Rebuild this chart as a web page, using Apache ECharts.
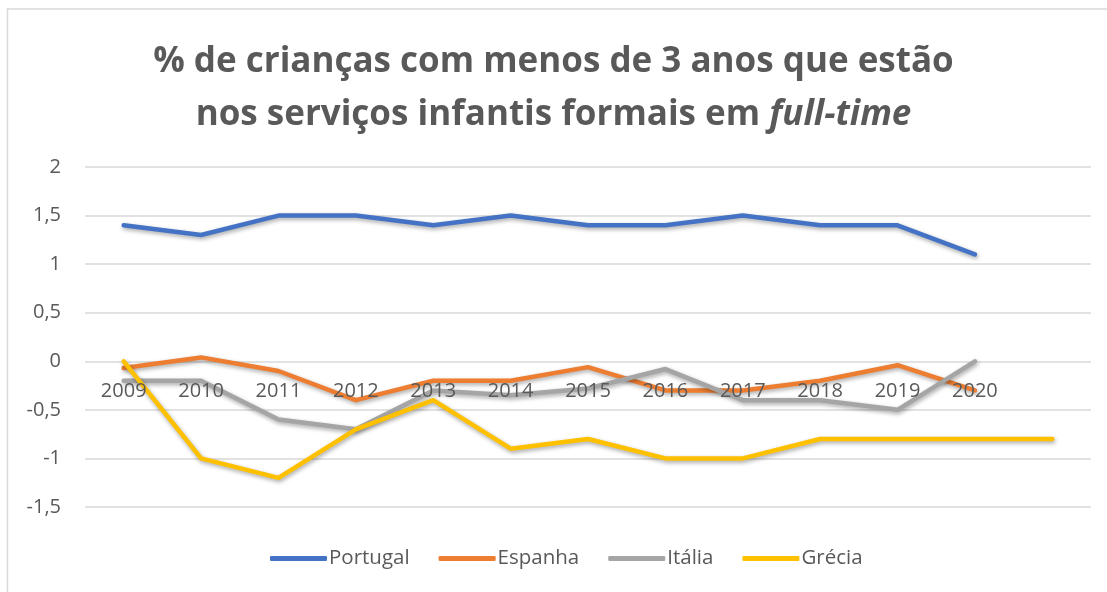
<!DOCTYPE html>
<html>
<head>
<meta charset="utf-8">
<script src="https://cdn.jsdelivr.net/npm/echarts@6/dist/echarts.min.js"></script>
<style>html,body{margin:0;padding:0;background:#fff}#c{width:1107px;height:592px}</style>
</head>
<body>
<div id="c"></div>
<script>
const categories = ['2009','2010','2011','2012','2013','2014','2015','2016','2017','2018','2019','2020',''];
const portugal = [1.4, 1.3, 1.5, 1.5, 1.4, 1.5, 1.4, 1.4, 1.5, 1.4, 1.4, 1.1, null];
const espanha  = [-0.07, 0.04, -0.1, -0.4, -0.2, -0.2, -0.06, -0.3, -0.3, -0.2, -0.04, -0.3, null];
const italia   = [-0.2, -0.2, -0.6, -0.7, -0.3, -0.35, -0.28, -0.08, -0.4, -0.4, -0.5, 0, null];
const grecia   = [0, -1, -1.2, -0.7, -0.4, -0.9, -0.8, -1, -1, -0.8, -0.8, -0.8, -0.8];
const seriesNames = ['Portugal','Espanha','Itália','Grécia'];
const colors = ['#4472C4','#ED7D31','#A5A5A5','#FFC000'];
const yTicks = {min: -1.5, max: 2, interval: 0.5};

const FONT = '"Open Sans", Lato, sans-serif';
const GRID = {left: 85, right: 16, top: 167, bottom: 85};
const plotH = 592 - GRID.top - GRID.bottom;
// move the category axis up to the value 0 (as Excel does)
const zeroOffset = -((0 - yTicks.min) / (yTicks.max - yTicks.min)) * plotH;

const chart = echarts.init(document.getElementById('c'));
function mk(name, data, color, z) {
  return {
    name, type: 'line', data, z,
    symbol: 'none', smooth: false, connectNulls: false,
    lineStyle: {width: 4.5, color, cap: 'round', join: 'round',
      shadowColor: 'rgba(0,0,0,0.35)', shadowBlur: 4, shadowOffsetX: 1, shadowOffsetY: 2},
    itemStyle: {color}
  };
}
chart.setOption({
  animation: false,
  graphic: [{type: 'rect', shape: {x: 7.5, y: 9, width: 1200, height: 700},
    style: {fill: 'none', stroke: '#d9d9d9', lineWidth: 1.5}, z: -1}],
  title: {
    text: '% de crianças com menos de 3 anos que estão\nnos serviços infantis formais em {i|full-time}',
    left: 'center', top: 31,
    textStyle: {fontFamily: FONT, fontWeight: 'bold', fontSize: 35, color: '#595959', lineHeight: 53,
      rich: {i: {fontFamily: FONT, fontWeight: 'bold', fontStyle: 'italic', fontSize: 35, color: '#595959', lineHeight: 53}}}
  },
  legend: {
    data: seriesNames, bottom: 18, left: 265,
    icon: 'roundRect', itemWidth: 57, itemHeight: 5, itemGap: 29,
    textStyle: {fontFamily: FONT, fontSize: 20.5, color: '#595959', padding: [0,0,0,-3]}
  },
  grid: Object.assign({containLabel: false}, GRID),
  xAxis: {
    type: 'category', data: categories, boundaryGap: true,
    offset: zeroOffset,
    axisLine: {show: false, onZero: false},
    axisTick: {show: false},
    axisLabel: {fontFamily: FONT, fontSize: 20, color: '#595959', margin: 20, interval: 0},
    z: 10
  },
  yAxis: {
    type: 'value', min: yTicks.min, max: yTicks.max, interval: yTicks.interval,
    axisLine: {show: false}, axisTick: {show: false},
    splitLine: {lineStyle: {color: '#d9d9d9', width: 1.5}},
    axisLabel: {fontFamily: FONT, fontSize: 20, color: '#595959', margin: 24,
      formatter: v => String(v).replace('.', ',')}
  },
  series: [
    mk(seriesNames[0], portugal, colors[0], 2),
    mk(seriesNames[1], espanha, colors[1], 3),
    mk(seriesNames[2], italia, colors[2], 4),
    mk(seriesNames[3], grecia, colors[3], 5)
  ]
});
</script>
</body>
</html>
